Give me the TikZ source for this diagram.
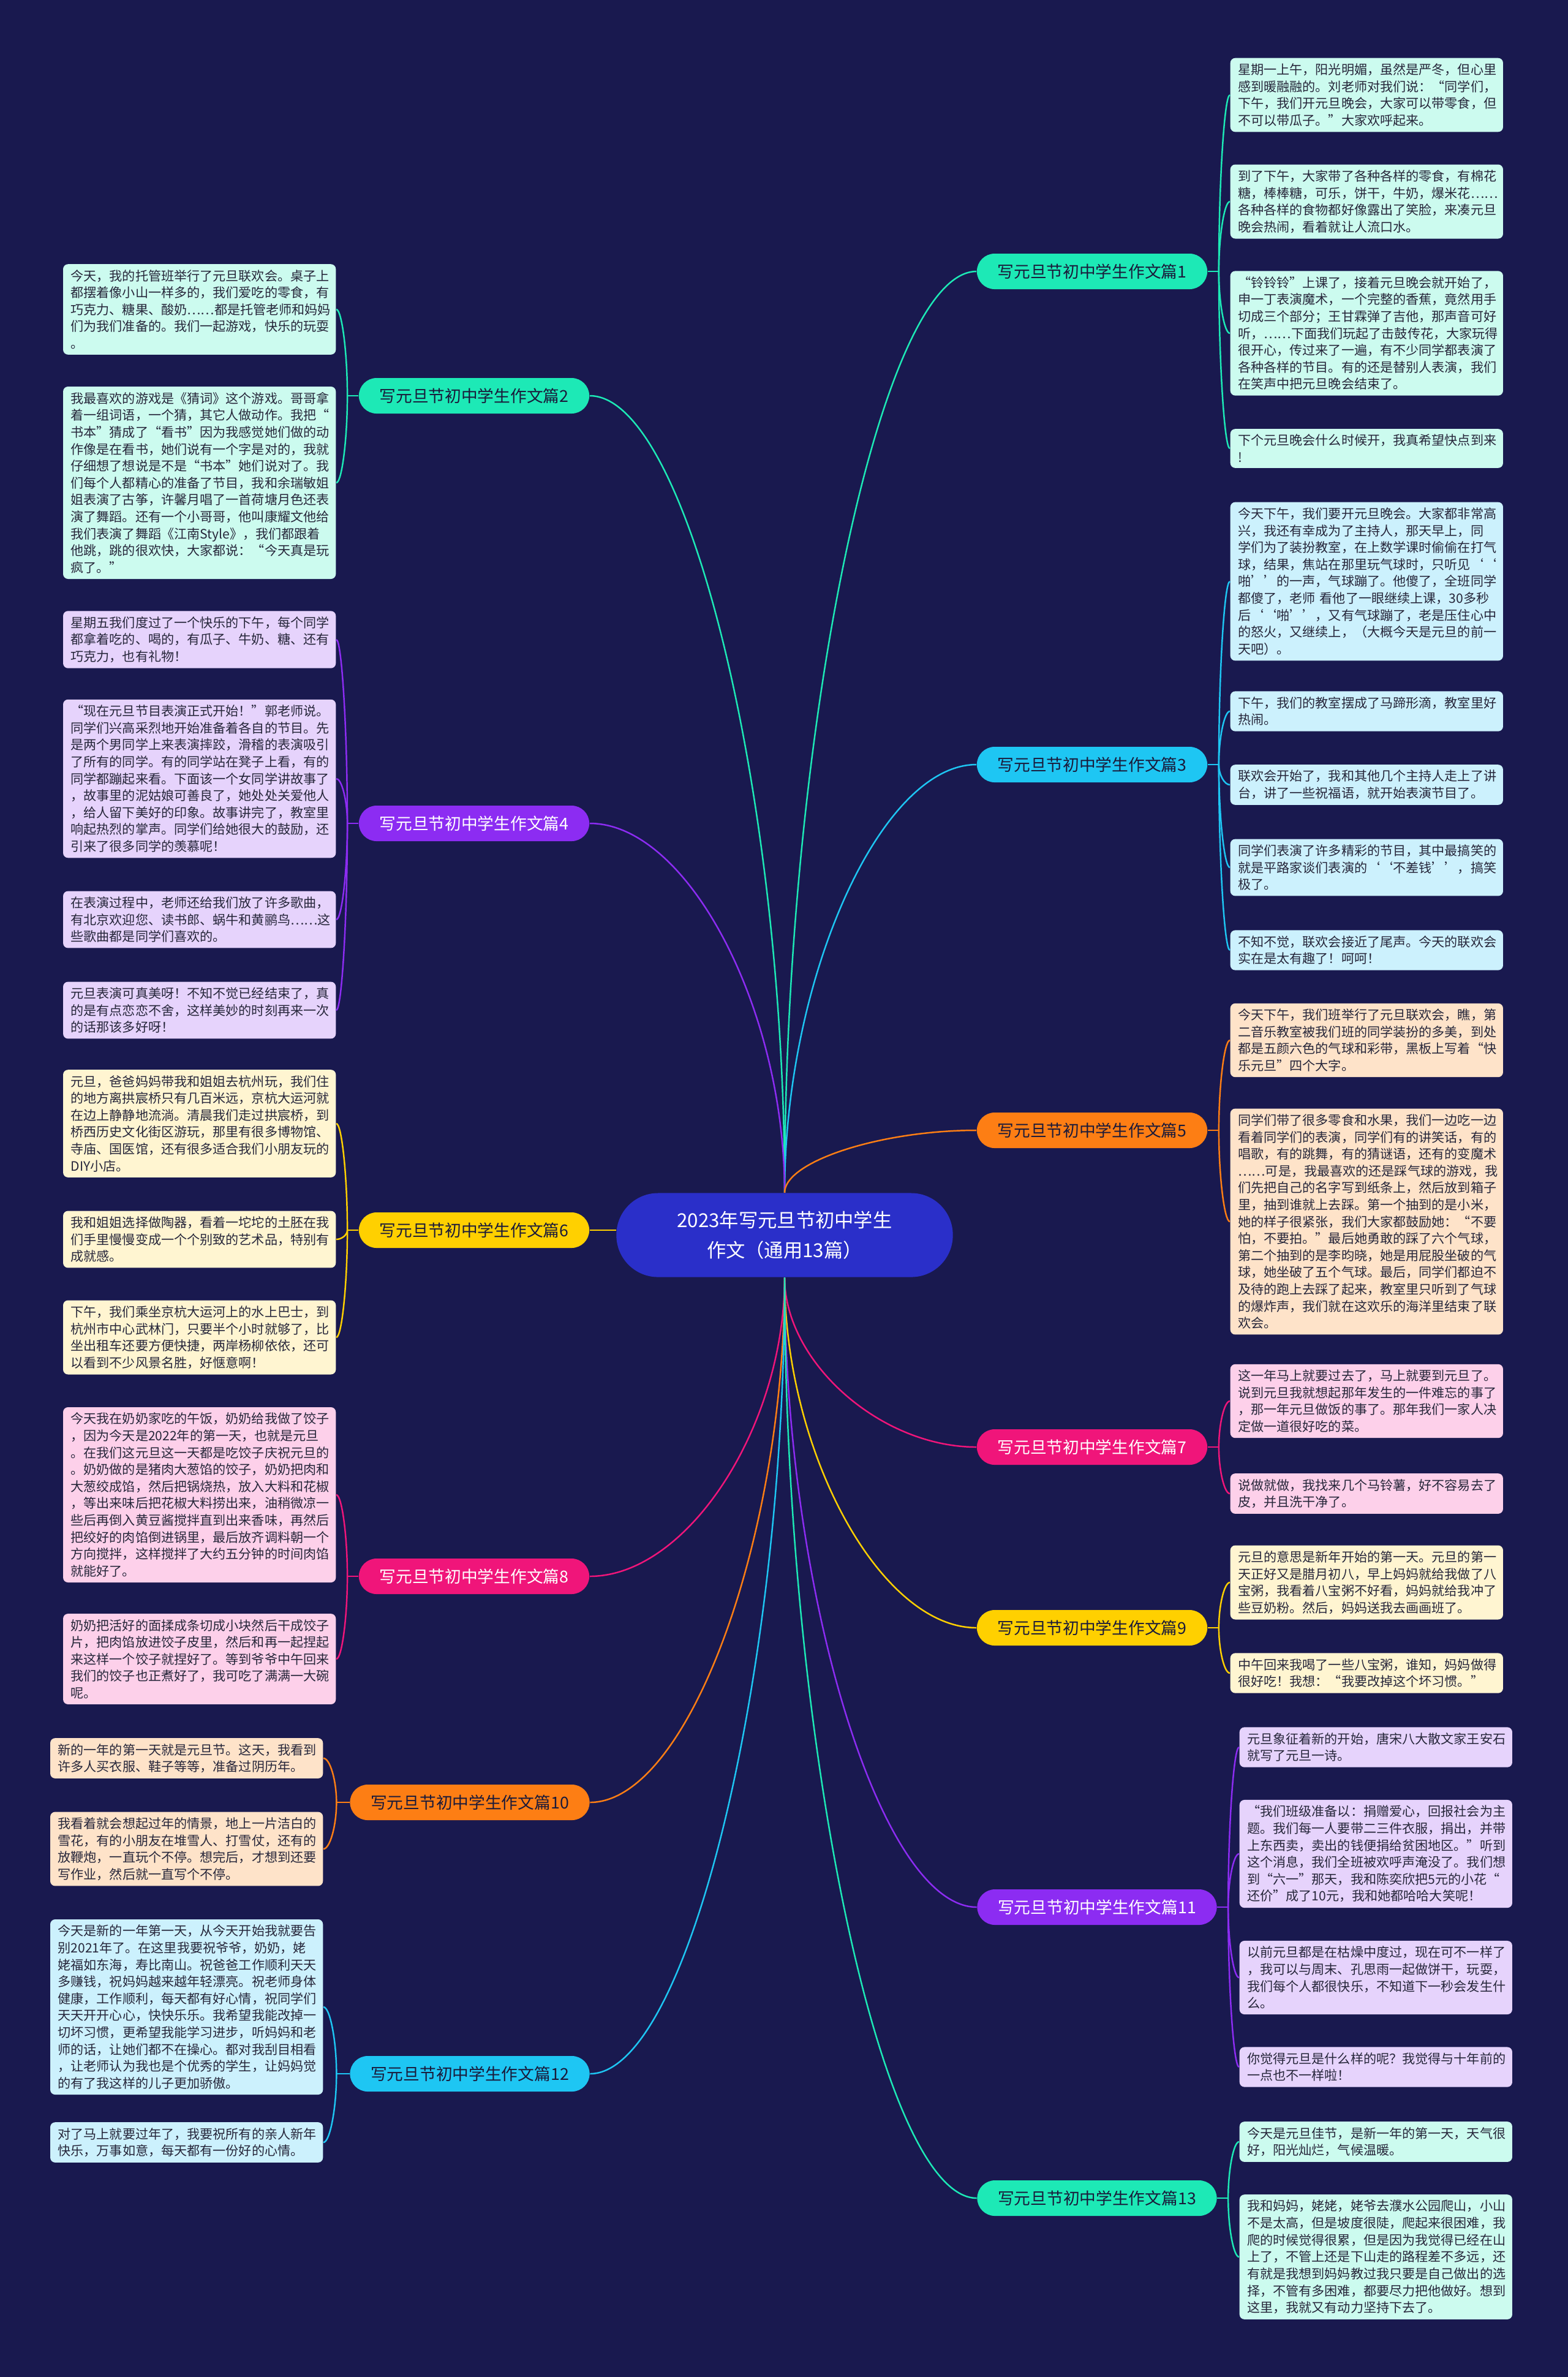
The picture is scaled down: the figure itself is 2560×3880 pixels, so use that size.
\documentclass[tikz,border=0pt]{standalone}
\usepackage{fontspec}
\setmainfont{Noto Sans CJK SC}
\usetikzlibrary{calc}

\definecolor{bgnavy}{HTML}{19194F}
\definecolor{rootblue}{HTML}{2A2FC9}
\definecolor{cMint}{HTML}{1DE9B6}
\definecolor{cSky}{HTML}{1EC6F3}
\definecolor{cViolet}{HTML}{8C2CF2}
\definecolor{cOrange}{HTML}{FD7E14}
\definecolor{cYellow}{HTML}{FFD000}
\definecolor{cPink}{HTML}{F0157A}
\definecolor{lMint}{HTML}{CCFBEF}
\definecolor{lSky}{HTML}{CCF1FD}
\definecolor{lViolet}{HTML}{E6D3FC}
\definecolor{lOrange}{HTML}{FEE3C9}
\definecolor{lYellow}{HTML}{FFF5D1}
\definecolor{lPink}{HTML}{FDD0EA}
\definecolor{leaftext}{HTML}{26263A}
\definecolor{pilldark}{HTML}{1A1A3A}

\begin{document}
\begin{tikzpicture}[
    x=0.01cm, y=-0.01cm,
    root/.style={fill=rootblue, text=white, rounded corners=0.68cm, minimum width=5.49cm, minimum height=1.37cm, align=center, font=\fontsize{8.9pt}{14pt}\selectfont},
    branch/.style={rounded corners=0.29cm, minimum width=3.76cm, minimum height=0.58cm, inner sep=0pt, font=\fontsize{7.6pt}{9pt}\selectfont},
    wide/.style={minimum width=3.91cm},
    dark/.style={text=pilldark},
    light/.style={text=white},
    leaf/.style={rounded corners=0.08cm, text width=4.2cm, inner xsep=0.125cm, inner ysep=0.09cm, align=left, text=leaftext, font=\fontsize{6pt}{7.85pt}\selectfont},
    link/.style={line width=0.7pt},
    sbend/.style={to path={let \p1=(\tikztostart), \p2=(\tikztotarget) in .. controls (\x1,{0.5*(\y1+\y2)}) and ({0.5*(\x1+\x2)},\y2) .. (\p2)}}
]

\fill[bgnavy] (0,0) rectangle (2560,3880);
\useasboundingbox (0,0) rectangle (2560,3880);

% =================== ROOT ===================
\node[root] (root) at (1281,2016) {2023年写元旦节初中学生\\作文（通用13篇）};

% =================== BRANCHES ===================
\node[branch, fill=cMint, dark] (s1) at (1783,443) {写元旦节初中学生作文篇1};
\node[branch, fill=cMint, dark] (s2) at (774,646) {写元旦节初中学生作文篇2};
\node[branch, fill=cSky, dark] (s3) at (1783,1248) {写元旦节初中学生作文篇3};
\node[branch, fill=cViolet, light] (s4) at (774,1344) {写元旦节初中学生作文篇4};
\node[branch, fill=cOrange, dark] (s5) at (1783,1845) {写元旦节初中学生作文篇5};
\node[branch, fill=cYellow, dark] (s6) at (774,2008) {写元旦节初中学生作文篇6};
\node[branch, fill=cPink, light] (s7) at (1783,2362) {写元旦节初中学生作文篇7};
\node[branch, fill=cPink, light] (s8) at (774,2573) {写元旦节初中学生作文篇8};
\node[branch, fill=cYellow, dark] (s9) at (1783,2657) {写元旦节初中学生作文篇9};
\node[branch, wide, fill=cOrange, dark] (s10) at (767,2942) {写元旦节初中学生作文篇10};
\node[branch, wide, fill=cViolet, light] (s11) at (1791,3113) {写元旦节初中学生作文篇11};
\node[branch, wide, fill=cSky, dark] (s12) at (767,3385) {写元旦节初中学生作文篇12};
\node[branch, wide, fill=cMint, dark] (s13) at (1791,3588) {写元旦节初中学生作文篇13};

\draw[link, cMint] (root.north) to[sbend] (s1.west);
\draw[link, cMint] (root.north) to[sbend] (s2.east);
\draw[link, cSky] (root.north) to[sbend] (s3.west);
\draw[link, cViolet] (root.north) to[sbend] (s4.east);
\draw[link, cOrange] (root.north) to[sbend] (s5.west);
\draw[link, cYellow] (s6.east) -- (s6.east -| root.west);
\draw[link, cPink] (root.south) to[sbend] (s7.west);
\draw[link, cPink] (root.south) to[sbend] (s8.east);
\draw[link, cYellow] (root.south) to[sbend] (s9.west);
\draw[link, cOrange] (root.south) to[sbend] (s10.east);
\draw[link, cViolet] (root.south) to[sbend] (s11.west);
\draw[link, cSky] (root.south) to[sbend] (s12.east);
\draw[link, cMint] (root.south) to[sbend] (s13.west);

% =================== PIECE 1 ===================
\node[leaf, fill=lMint, anchor=west] (s1a) at (2008,155) {星期一上午，阳光明媚，虽然是严冬，但心里\\感到暖融融的。刘老师对我们说：“同学们，\\下午，我们开元旦晚会，大家可以带零食，但\\不可以带瓜子。”大家欢呼起来。};
\node[leaf, fill=lMint, anchor=west] (s1b) at (2008,329) {到了下午，大家带了各种各样的零食，有棉花\\糖，棒棒糖，可乐，饼干，牛奶，爆米花……\\各种各样的食物都好像露出了笑脸，来凑元旦\\晚会热闹，看着就让人流口水。};
\node[leaf, fill=lMint, anchor=west] (s1c) at (2008,544) {“铃铃铃”上课了，接着元旦晚会就开始了，\\申一丁表演魔术，一个完整的香蕉，竟然用手\\切成三个部分；王甘霖弹了吉他，那声音可好\\听，……下面我们玩起了击鼓传花，大家玩得\\很开心，传过来了一遍，有不少同学都表演了\\各种各样的节目。有的还是替别人表演，我们\\在笑声中把元旦晚会结束了。};
\node[leaf, fill=lMint, anchor=west] (s1d) at (2008,732) {下个元旦晚会什么时候开，我真希望快点到来\\!};

\coordinate (s1j) at ($(s1.east)!0.5!(s1.east -| s1a.west)$);
\draw[link, cMint] (s1.east) -- (s1j);
\foreach \k in {a,b,c,d} \draw[link, cMint] (s1j) to[sbend] (s1\k.west);

% =================== PIECE 2 ===================
\node[leaf, fill=lMint, anchor=east] (s2a) at (549,505) {今天，我的托管班举行了元旦联欢会。桌子上\\都摆着像小山一样多的，我们爱吃的零食，有\\巧克力、糖果、酸奶……都是托管老师和妈妈\\们为我们准备的。我们一起游戏，快乐的玩耍\\。};
\node[leaf, fill=lMint, anchor=east] (s2b) at (549,788) {我最喜欢的游戏是《猜词》这个游戏。哥哥拿\\着一组词语，一个猜，其它人做动作。我把“\\书本”猜成了“看书”因为我感觉她们做的动\\作像是在看书，她们说有一个字是对的，我就\\仔细想了想说是不是“书本”她们说对了。我\\们每个人都精心的准备了节目，我和余瑞敏姐\\姐表演了古筝，许馨月唱了一首荷塘月色还表\\演了舞蹈。还有一个小哥哥，他叫康耀文他给\\我们表演了舞蹈《江南Style》，我们都跟着\\他跳，跳的很欢快，大家都说：“今天真是玩\\疯了。”};

\coordinate (s2j) at ($(s2.west)!0.5!(s2.west -| s2a.east)$);
\draw[link, cMint] (s2.west) -- (s2j);
\foreach \k in {a,b} \draw[link, cMint] (s2j) to[sbend] (s2\k.east);

% =================== PIECE 3 ===================
\node[leaf, fill=lSky, anchor=west] (s3a) at (2008,949) {今天下午，我们要开元旦晚会。大家都非常高\\兴，我还有幸成为了主持人，那天早上，同\\学们为了装扮教室，在上数学课时偷偷在打气\\球，结果，焦站在那里玩气球时，只听见‘‘\\啪’’的一声，气球蹦了。他傻了，全班同学\\都傻了，老师 看他了一眼继续上课，30多秒\\后‘‘啪’’，又有气球蹦了，老是压住心中\\的怒火，又继续上，（大概今天是元旦的前一\\天吧）。};
\node[leaf, fill=lSky, anchor=west] (s3b) at (2008,1161) {下午，我们的教室摆成了马蹄形滴，教室里好\\热闹。};
\node[leaf, fill=lSky, anchor=west] (s3c) at (2008,1281) {联欢会开始了，我和其他几个主持人走上了讲\\台，讲了一些祝福语，就开始表演节目了。};
\node[leaf, fill=lSky, anchor=west] (s3d) at (2008,1416) {同学们表演了许多精彩的节目，其中最搞笑的\\就是平路家谈们表演的‘‘不差钱’’，搞笑\\极了。};
\node[leaf, fill=lSky, anchor=west] (s3e) at (2008,1551) {不知不觉，联欢会接近了尾声。今天的联欢会\\实在是太有趣了！呵呵！};

\coordinate (s3j) at ($(s3.east)!0.5!(s3.east -| s3a.west)$);
\draw[link, cSky] (s3.east) -- (s3j);
\foreach \k in {a,b,c,d,e} \draw[link, cSky] (s3j) to[sbend] (s3\k.west);

% =================== PIECE 4 ===================
\node[leaf, fill=lViolet, anchor=east] (s4a) at (549,1044) {星期五我们度过了一个快乐的下午，每个同学\\都拿着吃的、喝的，有瓜子、牛奶、糖、还有\\巧克力，也有礼物！};
\node[leaf, fill=lViolet, anchor=east] (s4b) at (549,1271) {“现在元旦节目表演正式开始！”郭老师说。\\同学们兴高采烈地开始准备着各自的节目。先\\是两个男同学上来表演摔跤，滑稽的表演吸引\\了所有的同学。有的同学站在凳子上看，有的\\同学都蹦起来看。下面该一个女同学讲故事了\\，故事里的泥姑娘可善良了，她处处关爱他人\\，给人留下美好的印象。故事讲完了，教室里\\响起热烈的掌声。同学们给她很大的鼓励，还\\引来了很多同学的羡慕呢！};
\node[leaf, fill=lViolet, anchor=east] (s4c) at (549,1501) {在表演过程中，老师还给我们放了许多歌曲，\\有北京欢迎您、读书郎、蜗牛和黄鹂鸟……这\\些歌曲都是同学们喜欢的。};
\node[leaf, fill=lViolet, anchor=east] (s4d) at (549,1649) {元旦表演可真美呀！不知不觉已经结束了，真\\的是有点恋恋不舍，这样美妙的时刻再来一次\\的话那该多好呀！};

\coordinate (s4j) at ($(s4.west)!0.5!(s4.west -| s4a.east)$);
\draw[link, cViolet] (s4.west) -- (s4j);
\foreach \k in {a,b,c,d} \draw[link, cViolet] (s4j) to[sbend] (s4\k.east);

% =================== PIECE 5 ===================
\node[leaf, fill=lOrange, anchor=west] (s5a) at (2008,1698) {今天下午，我们班举行了元旦联欢会，瞧，第\\二音乐教室被我们班的同学装扮的多美，到处\\都是五颜六色的气球和彩带，黑板上写着“快\\乐元旦”四个大字。};
\node[leaf, fill=lOrange, anchor=west] (s5b) at (2008,1994) {同学们带了很多零食和水果，我们一边吃一边\\看着同学们的表演，同学们有的讲笑话，有的\\唱歌，有的跳舞，有的猜谜语，还有的变魔术\\……可是，我最喜欢的还是踩气球的游戏，我\\们先把自己的名字写到纸条上，然后放到箱子\\里，抽到谁就上去踩。第一个抽到的是小米，\\她的样子很紧张，我们大家都鼓励她：“不要\\怕，不要拍。”最后她勇敢的踩了六个气球，\\第二个抽到的是李昀晓，她是用屁股坐破的气\\球，她坐破了五个气球。最后，同学们都迫不\\及待的跑上去踩了起来，教室里只听到了气球\\的爆炸声，我们就在这欢乐的海洋里结束了联\\欢会。};

\coordinate (s5j) at ($(s5.east)!0.5!(s5.east -| s5a.west)$);
\draw[link, cOrange] (s5.east) -- (s5j);
\foreach \k in {a,b} \draw[link, cOrange] (s5j) to[sbend] (s5\k.west);

% =================== PIECE 6 ===================
\node[leaf, fill=lYellow, anchor=east] (s6a) at (549,1834) {元旦，爸爸妈妈带我和姐姐去杭州玩，我们住\\的地方离拱宸桥只有几百米远，京杭大运河就\\在边上静静地流淌。清晨我们走过拱宸桥，到\\桥西历史文化街区游玩，那里有很多博物馆、\\寺庙、国医馆，还有很多适合我们小朋友玩的\\DIY小店。};
\node[leaf, fill=lYellow, anchor=east] (s6b) at (549,2023) {我和姐姐选择做陶器，看着一坨坨的土胚在我\\们手里慢慢变成一个个别致的艺术品，特别有\\成就感。};
\node[leaf, fill=lYellow, anchor=east] (s6c) at (549,2183) {下午，我们乘坐京杭大运河上的水上巴士，到\\杭州市中心武林门，只要半个小时就够了，比\\坐出租车还要方便快捷，两岸杨柳依依，还可\\以看到不少风景名胜，好惬意啊！};

\coordinate (s6j) at ($(s6.west)!0.5!(s6.west -| s6a.east)$);
\draw[link, cYellow] (s6.west) -- (s6j);
\foreach \k in {a,b,c} \draw[link, cYellow] (s6j) to[sbend] (s6\k.east);

% =================== PIECE 7 ===================
\node[leaf, fill=lPink, anchor=west] (s7a) at (2008,2287) {这一年马上就要过去了，马上就要到元旦了。\\说到元旦我就想起那年发生的一件难忘的事了\\，那一年元旦做饭的事了。那年我们一家人决\\定做一道很好吃的菜。};
\node[leaf, fill=lPink, anchor=west] (s7b) at (2008,2438) {说做就做，我找来几个马铃薯，好不容易去了\\皮，并且洗干净了。};

\coordinate (s7j) at ($(s7.east)!0.5!(s7.east -| s7a.west)$);
\draw[link, cPink] (s7.east) -- (s7j);
\foreach \k in {a,b} \draw[link, cPink] (s7j) to[sbend] (s7\k.west);

% =================== PIECE 8 ===================
\node[leaf, fill=lPink, anchor=east] (s8a) at (549,2440) {今天我在奶奶家吃的午饭，奶奶给我做了饺子\\，因为今天是2022年的第一天，也就是元旦\\。在我们这元旦这一天都是吃饺子庆祝元旦的\\。奶奶做的是猪肉大葱馅的饺子，奶奶把肉和\\大葱绞成馅，然后把锅烧热，放入大料和花椒\\，等出来味后把花椒大料捞出来，油稍微凉一\\些后再倒入黄豆酱搅拌直到出来香味，再然后\\把绞好的肉馅倒进锅里，最后放齐调料朝一个\\方向搅拌，这样搅拌了大约五分钟的时间肉馅\\就能好了。};
\node[leaf, fill=lPink, anchor=east] (s8b) at (549,2708) {奶奶把活好的面揉成条切成小块然后干成饺子\\片，把肉馅放进饺子皮里，然后和再一起捏起\\来这样一个饺子就捏好了。等到爷爷中午回来\\我们的饺子也正煮好了，我可吃了满满一大碗\\呢。};

\coordinate (s8j) at ($(s8.west)!0.5!(s8.west -| s8a.east)$);
\draw[link, cPink] (s8.west) -- (s8j);
\foreach \k in {a,b} \draw[link, cPink] (s8j) to[sbend] (s8\k.east);

% =================== PIECE 9 ===================
\node[leaf, fill=lYellow, anchor=west] (s9a) at (2008,2583) {元旦的意思是新年开始的第一天。元旦的第一\\天正好又是腊月初八，早上妈妈就给我做了八\\宝粥，我看着八宝粥不好看，妈妈就给我冲了\\些豆奶粉。然后，妈妈送我去画画班了。};
\node[leaf, fill=lYellow, anchor=west] (s9b) at (2008,2731) {中午回来我喝了一些八宝粥，谁知，妈妈做得\\很好吃！我想：“我要改掉这个坏习惯。”};

\coordinate (s9j) at ($(s9.east)!0.5!(s9.east -| s9a.west)$);
\draw[link, cYellow] (s9.east) -- (s9j);
\foreach \k in {a,b} \draw[link, cYellow] (s9j) to[sbend] (s9\k.west);

% =================== PIECE 10 ===================
\node[leaf, fill=lOrange, anchor=east] (s10a) at (528,2870) {新的一年的第一天就是元旦节。这天，我看到\\许多人买衣服、鞋子等等，准备过阴历年。};
\node[leaf, fill=lOrange, anchor=east] (s10b) at (528,3018) {我看着就会想起过年的情景，地上一片洁白的\\雪花，有的小朋友在堆雪人、打雪仗，还有的\\放鞭炮，一直玩个不停。想完后，才想到还要\\写作业，然后就一直写个不停。};

\coordinate (s10j) at ($(s10.west)!0.5!(s10.west -| s10a.east)$);
\draw[link, cOrange] (s10.west) -- (s10j);
\foreach \k in {a,b} \draw[link, cOrange] (s10j) to[sbend] (s10\k.east);

% =================== PIECE 11 ===================
\node[leaf, fill=lViolet, anchor=west] (s11a) at (2023,2852) {元旦象征着新的开始，唐宋八大散文家王安石\\就写了元旦一诗。};
\node[leaf, fill=lViolet, anchor=west] (s11b) at (2023,3026) {“我们班级准备以：捐赠爱心，回报社会为主\\题。我们每一人要带二三件衣服，捐出，并带\\上东西卖，卖出的钱便捐给贫困地区。”听到\\这个消息，我们全班被欢呼声淹没了。我们想\\到“六一”那天，我和陈奕欣把5元的小花“\\还价”成了10元，我和她都哈哈大笑呢！};
\node[leaf, fill=lViolet, anchor=west] (s11c) at (2023,3228) {以前元旦都是在枯燥中度过，现在可不一样了\\，我可以与周末、孔思雨一起做饼干，玩耍，\\我们每个人都很快乐，不知道下一秒会发生什\\么。};
\node[leaf, fill=lViolet, anchor=west] (s11d) at (2023,3374) {你觉得元旦是什么样的呢？我觉得与十年前的\\一点也不一样啦！};

\coordinate (s11j) at ($(s11.east)!0.5!(s11.east -| s11a.west)$);
\draw[link, cViolet] (s11.east) -- (s11j);
\foreach \k in {a,b,c,d} \draw[link, cViolet] (s11j) to[sbend] (s11\k.west);

% =================== PIECE 12 ===================
\node[leaf, fill=lSky, anchor=east] (s12a) at (528,3276) {今天是新的一年第一天，从今天开始我就要告\\别2021年了。在这里我要祝爷爷，奶奶，姥\\姥福如东海，寿比南山。祝爸爸工作顺利天天\\多赚钱，祝妈妈越来越年轻漂亮。祝老师身体\\健康，工作顺利，每天都有好心情，祝同学们\\天天开开心心，快快乐乐。我希望我能改掉一\\切坏习惯，更希望我能学习进步，听妈妈和老\\师的话，让她们都不在操心。都对我刮目相看\\，让老师认为我也是个优秀的学生，让妈妈觉\\的有了我这样的儿子更加骄傲。};
\node[leaf, fill=lSky, anchor=east] (s12b) at (528,3497) {对了马上就要过年了，我要祝所有的亲人新年\\快乐，万事如意，每天都有一份好的心情。};

\coordinate (s12j) at ($(s12.west)!0.5!(s12.west -| s12a.east)$);
\draw[link, cSky] (s12.west) -- (s12j);
\foreach \k in {a,b} \draw[link, cSky] (s12j) to[sbend] (s12\k.east);

% =================== PIECE 13 ===================
\node[leaf, fill=lMint, anchor=west] (s13a) at (2023,3496) {今天是元旦佳节，是新一年的第一天，天气很\\好，阳光灿烂，气候温暖。};
\node[leaf, fill=lMint, anchor=west] (s13b) at (2023,3684) {我和妈妈，姥姥，姥爷去濮水公园爬山，小山\\不是太高，但是坡度很陡，爬起来很困难，我\\爬的时候觉得很累，但是因为我觉得已经在山\\上了，不管上还是下山走的路程差不多远，还\\有就是我想到妈妈教过我只要是自己做出的选\\择，不管有多困难，都要尽力把他做好。想到\\这里，我就又有动力坚持下去了。};

\coordinate (s13j) at ($(s13.east)!0.5!(s13.east -| s13a.west)$);
\draw[link, cMint] (s13.east) -- (s13j);
\foreach \k in {a,b} \draw[link, cMint] (s13j) to[sbend] (s13\k.west);

\end{tikzpicture}
\end{document}
